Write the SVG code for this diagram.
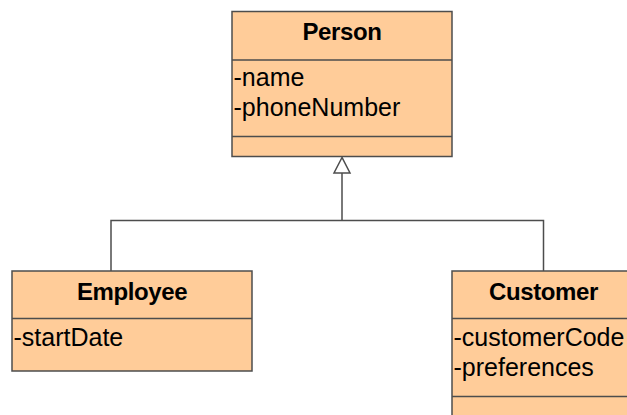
<svg xmlns="http://www.w3.org/2000/svg" width="627" height="415" viewBox="0 0 627 415">
  <defs>
    <style>
      .box { fill: #ffcc99; stroke: #4d4d4d; stroke-width: 1.5; }
      .div { stroke: #4d4d4d; stroke-width: 1.5; }
      .title { font-family: "Liberation Sans", Arial, sans-serif; font-size: 24px; font-weight: bold; fill: #000; text-anchor: middle; letter-spacing: -0.4px; }
      .attr { font-family: "Liberation Sans", Arial, sans-serif; font-size: 25px; fill: #000; }
      .edge { fill: none; stroke: #4d4d4d; stroke-width: 1.5; }
    </style>
  </defs>
  <rect width="627" height="415" fill="#ffffff"/>

  <!-- generalization connectors -->
  <g id="connectors">
    <polyline class="edge" points="111,271 111,220.5 543.5,220.5 543.5,271"/>
    <line class="edge" x1="342" y1="220.5" x2="342" y2="173"/>
    <polygon points="342,157.5 334,173 350,173" fill="#ffffff" stroke="#4d4d4d" stroke-width="1.5"/>
  </g>

  <g id="person">
    <rect class="box" x="232" y="11.5" width="220" height="145"/>
    <line class="div" x1="232" y1="60" x2="452" y2="60"/>
    <line class="div" x1="232" y1="136.5" x2="452" y2="136.5"/>
    <text class="title" x="342" y="40">Person</text>
    <text class="attr" x="233.5" y="86">-name</text>
    <text class="attr" x="233.5" y="116">-phoneNumber</text>
  </g>

  <g id="employee">
    <rect class="box" x="12" y="271" width="240" height="100"/>
    <line class="div" x1="12" y1="318.5" x2="252" y2="318.5"/>
    <text class="title" x="132" y="300">Employee</text>
    <text class="attr" x="13.5" y="346">-startDate</text>
  </g>

  <g id="customer">
    <rect class="box" x="452" y="271" width="183" height="160"/>
    <line class="div" x1="452" y1="318.5" x2="635" y2="318.5"/>
    <line class="div" x1="452" y1="396.5" x2="635" y2="396.5"/>
    <text class="title" x="543.5" y="300">Customer</text>
    <text class="attr" x="453.5" y="346">-customerCode</text>
    <text class="attr" x="453.5" y="376">-preferences</text>
  </g>
</svg>
